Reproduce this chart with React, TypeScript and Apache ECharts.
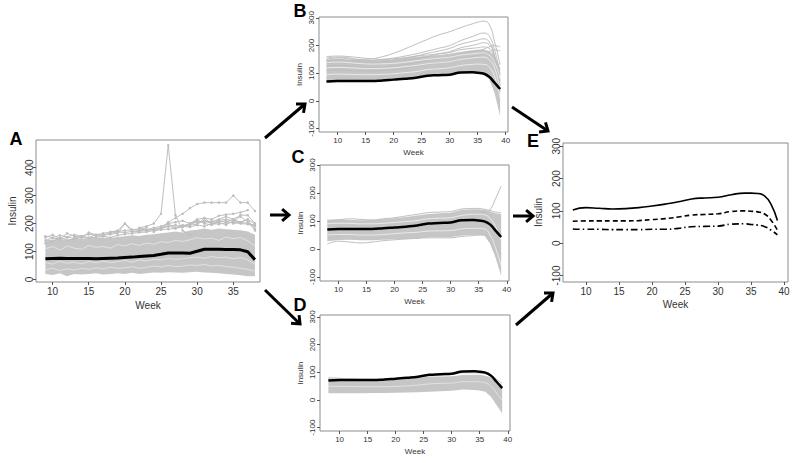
import React, { useEffect, useRef } from "react";
import * as echarts from "echarts";

const FONT = "Liberation Sans, Arial, sans-serif";
const GRAY = "#bebebe";
const BAND = "#c6c6c6";

// ---------- Panel A (raw data) ----------
const WEEKS_A = [9,10,11,12,13,14,15,16,17,18,19,20,21,22,23,24,25,26,27,28,29,30,31,32,33,34,35,36,37,38];
const MEAN_A = [74,75,76,75,75,75,75,74,75,76,77,79,80,82,84,86,90,95,95,95,94,101,108,108,108,107,107,106,99,71];
const BAND_A_LOW = [20,16,22,12,20,18,20,22,18,20,22,20,24,20,22,25,24,26,25,24,26,28,25,24,22,20,18,15,12,12];
const BAND_A_HIGH = [140,142,146,140,148,145,148,150,150,148,152,155,158,156,160,162,165,168,172,168,175,178,182,178,182,180,178,176,172,160];
const A_LINE1 = [155,150,158,152,160,155,162,158,160,165,170,168,172,175,178,180,185,190,195,188,200,205,210,200,205,195,210,205,200,195];
const A_LINE2 = [140,148,145,150,148,155,150,160,158,162,165,200,170,172,175,178,182,190,185,195,192,210,205,208,212,215,210,225,205,180];
const A_LINE3 = [130,135,150,140,145,150,148,152,155,150,158,162,165,168,170,175,178,180,182,190,188,195,190,200,198,202,205,200,198,190];
const A_LINE4 = [150,160,145,165,155,150,168,160,165,170,172,175,178,180,178,185,190,200,185,190,200,212,200,195,205,210,200,205,215,175];
const A_GAP1 = [110,118,105,120,112,108,122,115,118,112,125,120,128,122,130,126,135,132,140,136,142,150,145,148,140,152,146,150,138,120];
const A_GAP2 = [60,55,65,58,62,56,64,60,66,60,64,68,62,70,66,72,70,75,72,74,78,80,76,82,78,80,74,78,70,55];
const A_GAP3 = [35,40,32,38,34,40,36,42,38,44,40,42,46,40,44,48,45,50,46,48,52,50,54,48,50,46,44,40,36,30];
const A_SPIKE = [[22,185],[23,190],[24,200],[25,235],[26,480],[27,230],[28,175],[29,160]];
const A_HIGH1 = [[24,170],[25,185],[26,205],[27,220],[28,235],[29,255],[30,270],[31,275],[32,275],[33,275],[34,275],[35,300],[36,275],[37,275],[38,245]];
const A_HIGH2 = [[28,190],[29,200],[30,215],[31,220],[32,215],[33,228],[34,232],[35,235],[36,240],[37,248]];
const A_HIGH3 = [[30,200],[31,210],[32,205],[33,215],[34,225],[35,215],[36,230],[37,230],[38,200]];
const A_HIGH4 = [[25,180],[26,200],[27,205],[28,210],[29,200],[30,195],[31,220],[32,200],[33,210],[34,205],[35,215],[36,205],[37,215],[38,200]];
const A_BUMP20 = [[18,170],[19,175],[20,200],[21,178],[22,180],[23,185]];

// ---------- Smoothed panels (B, C, D, E) ----------
const WEEKS_S = [8,10,12,14,16,18,20,22,24,26,28,30,32,34,35,36,37,38,39];
const MEAN_S = [70,72,72,72,72,74,77,80,84,91,93,95,103,104,102,99,88,66,43];

const BAND_B_LOW = [66,70,71,71,71,73,76,79,83,90,92,94,101,102,100,96,80,30,-55];
const BAND_B_HIGH = [150,152,150,148,146,148,150,155,160,163,166,170,178,183,185,186,180,165,120];
const B_LINE1 = [155,158,155,150,152,160,172,188,205,222,238,250,265,278,284,288,278,215,130];
const B_LINE2 = [150,155,152,148,146,150,155,162,170,180,190,200,218,232,240,245,236,185,95];
const B_LINE3 = [145,148,146,142,140,142,148,155,162,172,180,190,205,215,220,224,215,165,70];
const B_LINE4 = [135,138,135,132,132,135,140,146,152,160,170,178,192,200,205,210,204,160,55];
const B_LINE5 = [125,128,126,122,120,122,126,132,138,146,152,160,170,178,182,186,195,200,195];
const B_LINE6 = [160,162,160,156,152,150,152,156,162,166,170,175,185,190,192,195,190,150,35];
const B_LINE7 = [110,112,110,108,108,110,112,118,125,132,138,142,152,160,165,170,178,185,180];
const B_GAP1 = [120,121,120,118,117,118,120,124,128,134,138,142,150,155,157,158,150,120,40];
const B_GAP2 = [95,97,96,95,95,96,98,102,106,113,116,120,128,132,133,132,124,90,10];
const B_GAP3 = [138,140,138,135,133,134,136,140,145,150,154,158,166,170,172,173,166,140,80];

const BAND_C_LOW = [28,32,33,31,31,33,35,36,38,42,42,42,48,50,50,48,20,-30,-95];
const BAND_C_HIGH = [105,106,104,103,104,106,110,114,120,125,128,130,140,142,142,140,135,128,125];
const C_LOWLINE = [18,28,25,22,25,30,33,36,38,40,40,40,45,48,50,50,40,10,-20];
const C_TOPLINE = [100,104,108,106,104,108,112,118,124,130,132,134,143,145,145,142,138,132,130];
const C_OUTLIER = [[35,135],[36,132],[37,140],[38,180],[39,225]];
const C_GAP1 = [90,92,92,90,90,92,95,98,102,108,110,112,120,124,124,122,110,80,30];
const C_GAP2 = [50,52,52,50,50,52,55,58,60,64,65,66,72,74,74,72,50,5,-60];

const BAND_D_LOW = [24,24,24,24,25,25,26,27,28,30,32,33,38,36,34,30,12,-18,-48];
const BAND_D_HIGH = [82,80,78,76,76,75,74,76,80,85,85,86,90,91,91,88,82,66,54];
const D_LIGHT = [78,77,76,75,75,75,76,79,84,90,90,92,98,98,97,95,88,74,60];
const D_GAP1 = [50,49,49,48,48,48,49,51,54,58,60,61,66,66,65,62,50,25,0];

const E_SOLID = [103,110,108,106,107,110,115,121,128,137,140,142,150,155,155,154,147,122,70];
const E_DASH = [68,69,69,69,69,70,73,76,81,87,89,91,98,100,99,97,91,72,40];
const E_DOTDASH = [44,43,43,42,42,42,43,43,46,51,52,53,59,60,58,56,52,41,26];

const X_TICKS_A = [10,15,20,25,30,35];
const Y_TICKS_A = [0,100,200,300,400];
const X_TICKS_S = [10,15,20,25,30,35,40];
const Y_TICKS_S = [-100,0,100,200,300];
const PANEL_LETTERS = ["A","B","C","D","E"];

const pairs = (weeks: number[], vals: number[]) => weeks.map((w, i) => [w, vals[i]]);

function xAxis(gi: number, min: number, max: number, ticks: number[], fs: number, nameGap: number) {
  return {
    type: "value", gridIndex: gi, min, max,
    name: "Week", nameLocation: "middle", nameGap,
    nameTextStyle: { fontSize: fs, color: "#333", fontFamily: FONT },
    axisLine: { show: false, onZero: false }, splitLine: { show: false },
    axisTick: { show: true, length: 3, lineStyle: { color: "#555" }, customValues: ticks },
    axisLabel: { customValues: ticks, fontSize: fs, color: "#333", margin: 4, fontFamily: FONT },
  };
}
function yAxis(gi: number, min: number, max: number, ticks: number[], fs: number, nameGap: number, margin: number) {
  return {
    type: "value", gridIndex: gi, min, max,
    name: "Insulin", nameLocation: "middle", nameGap, nameRotate: 90,
    nameTextStyle: { fontSize: fs, color: "#333", fontFamily: FONT },
    axisLine: { show: false, onZero: false }, splitLine: { show: false },
    axisTick: { show: true, length: 3, lineStyle: { color: "#555" }, customValues: ticks },
    axisLabel: { customValues: ticks, fontSize: fs, color: "#333", margin, rotate: 90, fontFamily: FONT },
  };
}
function band(gi: number, weeks: number[], lo: number[], hi: number[], color: string) {
  return {
    type: "custom", xAxisIndex: gi, yAxisIndex: gi, silent: true, z: 1,
    data: [[weeks[0], hi[0]]],
    renderItem: (_p: any, api: any) => {
      const pts: number[][] = [];
      for (let i = 0; i < weeks.length; i++) pts.push(api.coord([weeks[i], hi[i]]));
      for (let i = weeks.length - 1; i >= 0; i--) pts.push(api.coord([weeks[i], lo[i]]));
      return { type: "polygon", shape: { points: pts }, style: { fill: color } };
    },
  };
}
function line(gi: number, data: number[][], color: string, width: number, opts: any = {}) {
  return {
    type: "line", xAxisIndex: gi, yAxisIndex: gi, data, silent: true,
    symbol: opts.symbol || "none", symbolSize: opts.symbolSize || 2,
    itemStyle: { color }, smooth: opts.smooth ?? false, z: opts.z ?? 2,
    lineStyle: { color, width, type: opts.type || "solid" },
  };
}
function arrow(x1: number, y1: number, x2: number, y2: number) {
  const ang = Math.atan2(y2 - y1, x2 - x1);
  const L = 9, a = 0.7;
  const p1 = [x2 - L * Math.cos(ang - a), y2 - L * Math.sin(ang - a)];
  const p2 = [x2 - L * Math.cos(ang + a), y2 - L * Math.sin(ang + a)];
  return [
    { type: "line", shape: { x1, y1, x2, y2 }, style: { stroke: "#000", lineWidth: 3 } },
    { type: "polyline", shape: { points: [p1, [x2, y2], p2] }, style: { stroke: "#000", lineWidth: 3, fill: null } },
  ];
}

export default function App() {
  const ref = useRef<HTMLDivElement>(null);
  useEffect(() => {
    const chart = echarts.init(ref.current!, null, { renderer: "svg" });
    const A = 0, B = 1, C = 2, D = 3, E = 4;
    const sm = { smooth: true };
    const dotted = { symbol: "circle", symbolSize: 2.5 };
    const white = (gi: number, data: number[][], w: number, smooth: boolean) =>
      line(gi, data, "#f4f4f4", w, { smooth, z: 3 });
    const series: any[] = [
      // A
      band(A, WEEKS_A, BAND_A_LOW, BAND_A_HIGH, BAND),
      ...[A_GAP1, A_GAP2, A_GAP3].map((v) => white(A, pairs(WEEKS_A, v), 0.6, false)),
      line(A, pairs(WEEKS_A, A_LINE1), GRAY, 1, dotted),
      line(A, pairs(WEEKS_A, A_LINE2), GRAY, 1, dotted),
      line(A, pairs(WEEKS_A, A_LINE3), GRAY, 1, dotted),
      line(A, pairs(WEEKS_A, A_LINE4), GRAY, 1, dotted),
      line(A, A_SPIKE, GRAY, 1, dotted),
      line(A, A_HIGH1, GRAY, 1, dotted),
      line(A, A_HIGH2, GRAY, 1, dotted),
      line(A, A_HIGH3, GRAY, 1, dotted),
      line(A, A_HIGH4, GRAY, 1, dotted),
      line(A, A_BUMP20, GRAY, 1, dotted),
      line(A, pairs(WEEKS_A, MEAN_A), "#000", 3, { z: 5 }),
      // B
      band(B, WEEKS_S, BAND_B_LOW, BAND_B_HIGH, BAND),
      ...[B_LINE1, B_LINE2, B_LINE3, B_LINE4, B_LINE5, B_LINE6, B_LINE7].map((v) => line(B, pairs(WEEKS_S, v), GRAY, 1, sm)),
      ...[B_GAP1, B_GAP2, B_GAP3].map((v) => white(B, pairs(WEEKS_S, v), 0.8, true)),
      line(B, pairs(WEEKS_S, MEAN_S), "#000", 2.5, { smooth: true, z: 5 }),
      // C
      band(C, WEEKS_S, BAND_C_LOW, BAND_C_HIGH, BAND),
      line(C, pairs(WEEKS_S, C_LOWLINE), GRAY, 1, sm),
      line(C, pairs(WEEKS_S, C_TOPLINE), GRAY, 1, sm),
      line(C, C_OUTLIER, GRAY, 1, sm),
      ...[C_GAP1, C_GAP2].map((v) => white(C, pairs(WEEKS_S, v), 0.8, true)),
      line(C, pairs(WEEKS_S, MEAN_S), "#000", 2.5, { smooth: true, z: 5 }),
      // D
      band(D, WEEKS_S, BAND_D_LOW, BAND_D_HIGH, BAND),
      line(D, pairs(WEEKS_S, D_LIGHT), "#d6d6d6", 1.2, sm),
      white(D, pairs(WEEKS_S, D_GAP1), 0.6, true),
      line(D, pairs(WEEKS_S, MEAN_S), "#000", 2.5, { smooth: true, z: 5 }),
      // E
      line(E, pairs(WEEKS_S, E_SOLID), "#000", 1.6, sm),
      line(E, pairs(WEEKS_S, E_DASH), "#000", 1.6, { smooth: true, type: [5, 3] }),
      line(E, pairs(WEEKS_S, E_DOTDASH), "#000", 1.6, { smooth: true, type: [7, 3, 1.5, 3] }),
    ];
    const letterPos = [[16, 139], [300, 11], [298, 157], [300, 305], [533, 141]];
    const graphics: any[] = PANEL_LETTERS.map((t, i) => ({
      type: "text", x: letterPos[i][0], y: letterPos[i][1],
      style: { text: t, fontSize: 18, fontWeight: "bold", fontFamily: FONT, fill: "#000", align: "center", verticalAlign: "middle" },
    }));
    [[265, 138, 305, 104], [270, 215, 289, 215], [265, 290, 300, 324], [512, 107, 548, 131], [513, 216, 533, 216], [516, 325, 553, 293]]
      .forEach(([a, b, c, d]) => graphics.push(...arrow(a, b, c, d)));

    chart.setOption({
      animation: false,
      backgroundColor: "#fff",
      grid: [
        { left: 36, top: 140, width: 224, height: 142, show: true, borderColor: "#8c8c8c", borderWidth: 1 },
        { left: 319, top: 17, width: 189, height: 115, show: true, borderColor: "#8c8c8c", borderWidth: 1 },
        { left: 320, top: 165, width: 189, height: 116, show: true, borderColor: "#8c8c8c", borderWidth: 1 },
        { left: 320, top: 315, width: 190, height: 116, show: true, borderColor: "#8c8c8c", borderWidth: 1 },
        { left: 563, top: 143, width: 225, height: 139, show: true, borderColor: "#8c8c8c", borderWidth: 1 },
      ],
      xAxis: [
        xAxis(A, 7.7, 38.7, X_TICKS_A, 10, 18),
        xAxis(B, 6.66, 40.41, X_TICKS_S, 8, 16),
        xAxis(C, 6.7, 40.4, X_TICKS_S, 8, 16),
        xAxis(D, 6.5, 40.4, X_TICKS_S, 8, 16),
        xAxis(E, 6.52, 40.6, X_TICKS_S, 10, 17),
      ],
      yAxis: [
        yAxis(A, -9, 499, Y_TICKS_A, 10, 19, 2),
        yAxis(B, -112, 303, Y_TICKS_S, 8, 16, 4),
        yAxis(C, -114, 300, Y_TICKS_S, 8, 16, 4),
        yAxis(D, -112, 307, Y_TICKS_S, 8, 16, 4),
        yAxis(E, -120, 310, Y_TICKS_S, 10, 20, 2),
      ],
      series,
      graphic: graphics,
    });
    return () => chart.dispose();
  }, []);
  return <div ref={ref} style={{ position: "absolute", left: 0, top: 0, width: 800, height: 463 }} />;
}
